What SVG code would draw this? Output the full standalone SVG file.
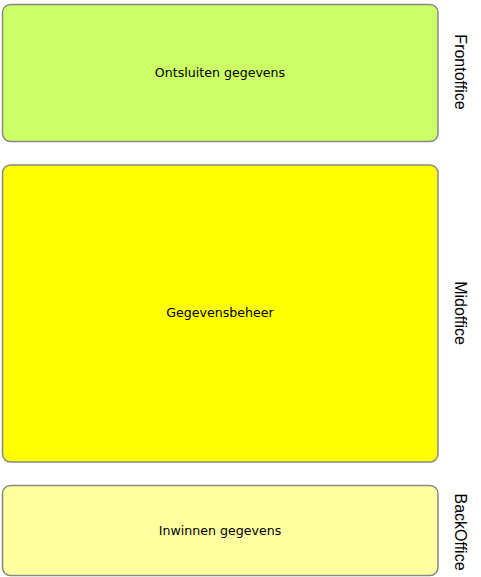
<svg xmlns="http://www.w3.org/2000/svg" width="481" height="577" viewBox="0 0 481 577">
<style>
.box{stroke:#888888;stroke-width:1.5}
.lbl{font-family:"DejaVu Sans",Verdana,sans-serif;font-size:12.6px;fill:#000;text-anchor:middle}
.side{font-family:"Liberation Sans",Arial,sans-serif;font-size:16px;fill:#000;text-anchor:middle}
</style>
<rect width="481" height="577" fill="#ffffff"/>
<g id="front">
<rect class="box" x="2.5" y="4.5" width="435.5" height="137" rx="8" fill="#CCFF66"/>
<text class="lbl" x="220" y="77">Ontsluiten gegevens</text>
</g>
<g id="mid">
<rect class="box" x="2.5" y="165" width="435.5" height="297" rx="8" fill="#FFFF00"/>
<text class="lbl" x="220" y="317">Gegevensbeheer</text>
</g>
<g id="back">
<rect class="box" x="2.5" y="485.5" width="435.5" height="90" rx="8" fill="#FFFFA0"/>
<text class="lbl" x="220" y="535">Inwinnen gegevens</text>
</g>
<g id="labels">
<text class="side" transform="translate(455,72) rotate(90)">Frontoffice</text>
<text class="side" transform="translate(455,313) rotate(90)">Midoffice</text>
<text class="side" transform="translate(455,532) rotate(90)">BackOffice</text>
</g>
<g id="connectors"></g>
</svg>
